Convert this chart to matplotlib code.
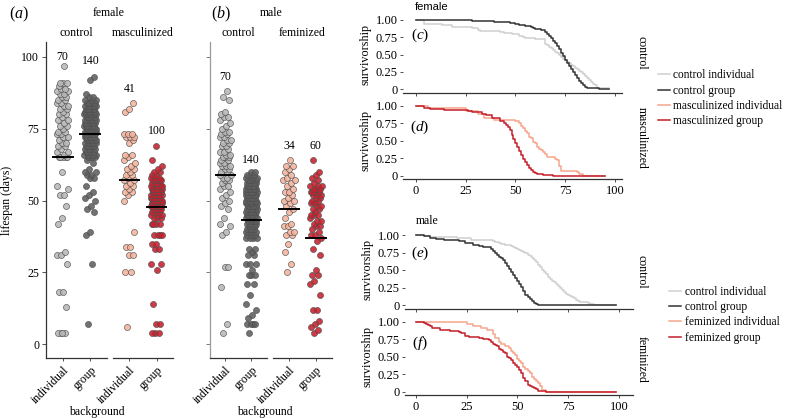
import numpy as np
import matplotlib
matplotlib.use("Agg")
import matplotlib.pyplot as plt
from matplotlib.lines import Line2D

plt.rcParams['font.family'] = ['Liberation Serif', 'DejaVu Serif']
plt.rcParams['mathtext.fontset'] = 'custom'
plt.rcParams['mathtext.rm'] = 'Liberation Serif'
plt.rcParams['mathtext.it'] = 'Liberation Serif:italic'

W, H = 785, 418

# lifespan (days) of each fly
f_ctrl_ind = [4, 4, 4, 4, 13, 18, 18, 28, 31, 31, 32, 42, 44, 48, 52, 52, 54, 55, 60,
              65, 65, 65, 65, 65, 66, 67, 67, 68, 69, 69, 70, 70, 71, 72, 72, 73, 73,
              74, 74, 75, 76, 76, 77, 78, 78, 79, 80, 80, 81, 82, 82, 83, 83, 84, 84,
              85, 85, 86, 86, 87, 87, 88, 88, 89, 89, 90, 91, 91, 91, 97]
f_ctrl_grp = [7, 28, 38, 39, 46, 47, 48, 50, 51, 52, 53, 55, 58, 58, 59, 59, 60, 60, 61, 63, 64,
              65, 65, 65, 65, 66, 66, 66, 66, 67, 67, 67, 67, 68, 68, 68, 68,
              69, 69, 69, 69, 69, 70, 70, 70, 70, 70, 71, 71, 71, 71, 71, 71, 72, 72, 72, 72, 72, 72,
              73, 73, 73, 73, 73, 73, 73, 74, 74, 74, 74, 74, 74, 74, 75, 75, 75, 75, 75, 75, 75,
              76, 76, 76, 76, 76, 76, 76, 77, 77, 77, 77, 77, 77, 78, 78, 78, 78, 78, 78,
              79, 79, 79, 79, 79, 79, 80, 80, 80, 80, 80, 80, 80, 81, 81, 81, 81, 81, 81,
              82, 82, 82, 82, 82, 83, 83, 83, 83, 83, 84, 84, 84, 84, 85, 85, 85, 86, 86, 87, 92, 93]
f_masc_ind = [6, 25, 25, 31, 31, 34, 34, 39, 50, 52, 53, 53, 54, 55, 55, 56, 57, 57, 58, 59, 59,
              60, 61, 61, 62, 63, 64, 65, 66, 66, 70, 71, 72, 72, 72, 73, 73, 73, 81, 82, 84]
f_masc_grp = [4, 4, 4, 7, 7, 14, 26, 28, 28, 33, 33, 35, 35, 38, 38, 38, 38, 42, 42, 42, 42, 44, 44, 44,
              45, 45, 45, 46, 46, 46, 47, 47, 47, 47, 47, 48, 48, 48, 48, 48, 48, 49, 49, 49, 49, 49, 49,
              50, 50, 50, 50, 50, 50, 51, 51, 51, 51, 51, 51, 52, 52, 52, 52, 52, 52, 53, 53, 53, 53, 53,
              54, 54, 54, 54, 54, 54, 55, 55, 55, 55, 55, 56, 56, 56, 56, 57, 57, 57, 57, 58, 58, 58,
              59, 59, 60, 60, 61, 62, 64, 69]
m_ctrl_ind = [4, 7, 20, 27, 27, 38, 39, 41, 42, 44, 47, 48, 49, 50, 51, 52, 53, 54, 55, 55,
              56, 57, 57, 58, 58, 59, 59, 60, 60, 60, 61, 61, 62, 62, 62, 63, 63, 64, 64, 65,
              65, 65, 66, 66, 67, 67, 68, 69, 69, 70, 70, 71, 71, 72, 72, 73, 73, 74, 74, 75,
              76, 77, 78, 79, 79, 80, 81, 85, 86, 88]
m_ctrl_grp = [4, 7, 7, 7, 7, 9, 10, 12, 14, 17, 21, 21, 24, 24, 24, 26, 28, 28, 28, 31, 31, 32, 33, 33,
              37, 37, 37, 37, 38, 38, 38, 38, 39, 39, 39, 39, 40, 40, 40, 40, 41, 41, 41, 42, 42, 42,
              43, 43, 43, 43, 44, 44, 44, 44, 44, 45, 45, 45, 45, 45, 45, 46, 46, 46, 46, 46, 46,
              47, 47, 47, 47, 47, 47, 48, 48, 48, 48, 48, 48, 49, 49, 49, 49, 49, 49, 50, 50, 50, 50, 50, 50,
              51, 51, 51, 51, 51, 51, 52, 52, 52, 52, 52, 52, 52, 53, 53, 53, 53, 53, 53, 53, 53,
              54, 54, 54, 54, 54, 54, 54, 55, 55, 55, 55, 55, 56, 56, 56, 56, 57, 57, 57, 57,
              58, 58, 58, 59, 59, 59, 60, 60]
m_fem_ind = [25, 28, 32, 35, 38, 38, 39, 39, 41, 41, 42, 44, 46, 47, 48, 49, 50, 50, 51, 52,
             53, 53, 54, 55, 56, 57, 57, 58, 59, 60, 61, 62, 62, 64]
m_fem_grp = [4, 5, 6, 7, 8, 12, 12, 17, 21, 22, 24, 24, 26, 31, 33, 36, 37, 38, 38, 39, 40, 41, 41,
             42, 43, 43, 44, 45, 45, 45, 46, 47, 47, 48, 48, 49, 49, 50, 50, 51, 51, 52, 52, 52,
             53, 53, 53, 53, 54, 54, 54, 55, 55, 55, 56, 57, 58, 59, 60, 64]

# mean lines as drawn in the strip plots
f_means = [65.3, 73.0, 57.1, 47.9]
m_means = [58.9, 43.2, 47.0, 37.1]

cats = ["individual", "group"]
fill_cols = ["#b8b8b8", "#5e5e5e", "#f6b39c", "#c8202c"]
line_cols = ["#cfcfcf", "#333333", "#f5a58b", "#c41e2a"]


def px_axes(left, top, right, bottom):
    return fig.add_axes([left / W, 1 - bottom / H, (right - left) / W, (bottom - top) / H])


def spread(n):
    # deterministic jitter: van der Corput sequence in base 3, centred on 0
    out = []
    for i in range(n):
        k, f, x = i + 1, 1 / 3, 0.0
        while k:
            x += (k % 3) * f
            k //= 3
            f /= 3
        out.append(x - 0.5)
    return np.array(out)


def strip(ax, groups, cols, means, label_y, left_axis):
    for k, (vals, c) in enumerate(zip(groups, cols)):
        v = np.sort(np.asarray(vals, float))
        off = spread(len(v)) * 0.44
        ax.scatter(k + 1 + off, v, s=19, c=c, edgecolors="#505050", linewidths=0.5,
                   alpha=0.88, zorder=2)
        ax.plot([k + 0.64, k + 1.36], [means[k]] * 2, color="black", lw=1.4, zorder=3)
        ax.text(k + 1, label_y[k], str(len(v)), ha="center", va="center", fontsize=8.5)
    ax.set_xlim(0.4, 2.6)
    ax.set_ylim(-4.8, 105.3)
    ax.set_xticks([1, 2])
    ax.set_xticklabels(cats, rotation=45, ha="right", rotation_mode="anchor", fontsize=8.5)
    ax.tick_params(axis="x", length=2.5, width=0.6, pad=2, color="#333333")
    for s in ["top", "right"]:
        ax.spines[s].set_visible(False)
    ax.spines["bottom"].set_color("#333333")
    ax.spines["bottom"].set_linewidth(0.9)
    ax.set_yticks([0, 25, 50, 75, 100])
    if left_axis == "labels":
        ax.spines["left"].set_color("#333333")
        ax.spines["left"].set_linewidth(0.9)
        ax.tick_params(axis="y", length=3, width=0.6, pad=2, labelsize=8.5, color="#333333")
    elif left_axis == "plain":
        ax.spines["left"].set_color("#9a9a9a")
        ax.spines["left"].set_linewidth(0.9)
        ax.tick_params(axis="y", length=3, width=0.6, labelleft=False, color="#666666")
    else:
        ax.spines["left"].set_visible(False)
        ax.tick_params(axis="y", left=False, labelleft=False)


def surv(ax, groups, cols, t_end, xlabels):
    for vals, c in zip(groups, cols):
        v = np.sort(np.asarray(vals, float))
        u = np.unique(v)
        t = np.concatenate([[0], u, [t_end]])
        s = [1.0] + [np.mean(v > x) for x in u]
        s.append(s[-1])
        ax.step(t, s, where="post", color=c, lw=1.1)
    ax.set_ylim(-0.05, 1.05)
    ax.set_yticks([0, 0.25, 0.5, 0.75, 1.0])
    ax.set_yticklabels(["0", "0.25", "0.50", "0.75", "1.00"])
    ax.set_xticks([0, 25, 50, 75, 100])
    for s_ in ["top", "right", "left"]:
        ax.spines[s_].set_visible(False)
    ax.spines["bottom"].set_color("#333333")
    ax.spines["bottom"].set_linewidth(0.9)
    ax.tick_params(axis="y", length=2, width=0.6, pad=2, labelsize=9, color="#333333")
    ax.tick_params(axis="x", length=2.5, width=0.6, pad=2, labelsize=9, color="#333333",
                   labelbottom=xlabels)
    ax.set_ylabel("survivorship", fontsize=8.7, labelpad=3)


fig = plt.figure(figsize=(W / 100, H / 100), dpi=100)

# (a) female lifespans
a1 = px_axes(46, 41.7, 107, 358)
a2 = px_axes(113, 41.7, 173, 358)
strip(a1, [f_ctrl_ind, f_ctrl_grp], fill_cols[:2], f_means[:2], [100, 98.5], "labels")
strip(a2, [f_masc_ind, f_masc_grp], fill_cols[2:], f_means[2:], [89, 74.2], "none")

# (b) male lifespans
b1 = px_axes(209.5, 41.7, 267, 358)
b2 = px_axes(273, 41.7, 332, 358)
strip(b1, [m_ctrl_ind, m_ctrl_grp], fill_cols[:2], m_means[:2], [93, 64], "plain")
strip(b2, [m_fem_ind, m_fem_grp], fill_cols[2:], m_means[2:], [69, 69], "none")


def ftext(x, y, s, **kw):
    kw.setdefault("ha", "center")
    kw.setdefault("va", "center")
    kw.setdefault("fontsize", 8.5)
    fig.text(x / W, 1 - y / H, s, **kw)


ftext(18.5, 14, r"($a$)", fontsize=11.5)
ftext(109, 13, "female")
ftext(76.5, 33, "control")
ftext(143, 33, "masculinized")
ftext(221, 14, r"($b$)", fontsize=11.5)
ftext(270.7, 13, "male")
ftext(238, 33, "control")
ftext(302.5, 33, "feminized")
ftext(7, 200, "lifespan (days)", rotation=90)
ftext(97, 411.5, "background")
ftext(265, 411.5, "background")

# survival curves
c = px_axes(403, 16.5, 622, 92.8)
d = px_axes(403, 102.5, 622, 179.2)
e = px_axes(405, 231.5, 633, 308.5)
f = px_axes(405, 318.2, 633, 395.2)
for ax in (c, d):
    ax.set_xlim(-6.5, 103.5)
for ax in (e, f):
    ax.set_xlim(-5.4, 107)
surv(c, [f_ctrl_ind, f_ctrl_grp], line_cols[:2], 97, False)
surv(d, [f_masc_ind, f_masc_grp], line_cols[2:], 95, True)
surv(e, [m_ctrl_ind, m_ctrl_grp], line_cols[:2], 98.5, False)
surv(f, [m_fem_ind, m_fem_grp], line_cols[2:], 98.5, True)

ftext(420, 35, r"($c$)", fontsize=11)
ftext(420, 127, r"($d$)", fontsize=11)
ftext(420, 253, r"($e$)", fontsize=11)
ftext(420, 343, r"($f$)", fontsize=11)
ftext(415, 6.5, "female", ha="left", family="Liberation Sans", fontsize=8)
ftext(416, 220.5, "male", ha="left")
ftext(641.7, 53.3, "control", rotation=-90)
ftext(641.7, 138, "masculinized", rotation=-90)
ftext(641.7, 271.7, "control", rotation=-90)
ftext(641.7, 359.3, "feminized", rotation=-90)

f_labels = ["control individual", "control group", "masculinized individual", "masculinized group"]
m_labels = ["control individual", "control group", "feminized individual", "feminized group"]
for labels, x0, y0 in [(f_labels, 657.5, 69.5), (m_labels, 669, 286)]:
    handles = [Line2D([], [], color=col, lw=1.1) for col in line_cols]
    fig.legend(handles, labels, loc="upper left", bbox_to_anchor=(x0 / W, 1 - y0 / H),
               frameon=False, fontsize=8.3, handlelength=1.05, handletextpad=0.3,
               labelspacing=0.28, borderpad=0, borderaxespad=0)

fig.savefig("out.png", dpi=100)
